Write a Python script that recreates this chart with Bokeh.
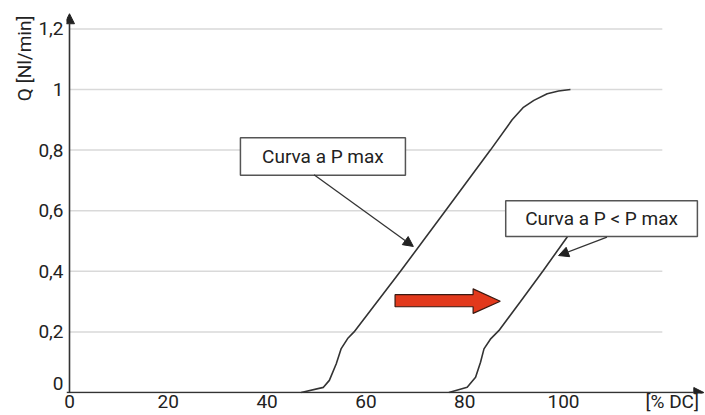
import math
from bokeh.plotting import figure
from bokeh.models import Range1d, FixedTicker, Arrow, NormalHead, Title
from bokeh.core.properties import value
from bokeh.embed import file_html
from bokeh.resources import INLINE

# ---- data ----
x_ticks = [0, 20, 40, 60, 80, 100]
x_tick_labels = ["0", "20", "40", "60", "80", "100"]
y_ticks = [0, 0.2, 0.4, 0.6, 0.8, 1.0, 1.2]
y_tick_labels = ["0", "0,2", "0,4", "0,6", "0,8", "1", "1,2"]
grid_levels = [0.2, 0.4, 0.6, 0.8, 1.0, 1.2]

curve_pmax_x = [46.9, 51.4, 52.6, 54.0, 55.0, 56.3, 57.6, 67.0, 76.1, 85.2, 89.6, 91.8, 94.0, 96.7, 99.0, 101.4]
curve_pmax_y = [0.0, 0.017, 0.04, 0.095, 0.145, 0.178, 0.2, 0.4, 0.6, 0.8, 0.9, 0.94, 0.964, 0.986, 0.995, 1.0]

curve_plow_x = [76.8, 80.5, 82.2, 83.2, 83.9, 85.3, 86.9, 91.3, 95.8, 100.6, 105.5]
curve_plow_y = [0.0, 0.017, 0.05, 0.10, 0.144, 0.178, 0.204, 0.30, 0.40, 0.51, 0.62]

label_pmax = "Curva a P max"
label_plow = "Curva a P < P max"
x_title = "[% DC]"
y_title = "Q [Nl/min]"

FONT = "Roboto"
TXT = "#222222"
X_TITLE_POS = 122.0
ZERO_LABEL_LIFT = 0.03   # the "0" on the y axis sits a little above the baseline

p = figure(width=705, height=415, output_backend="svg", toolbar_location=None,
           x_range=Range1d(-0.607, 128.74), y_range=Range1d(-0.0033, 1.2607),
           min_border_left=66, min_border_right=0, min_border_top=10, min_border_bottom=22)
p.outline_line_color = None
p.grid.visible = False
p.background_fill_color = "white"
p.border_fill_color = "white"

for ax in (p.xaxis[0], p.yaxis[0]):
    ax.axis_line_color = None
    ax.major_tick_line_color = None
    ax.minor_tick_line_color = None
    ax.major_tick_out = 0
    ax.major_tick_in = 0
    ax.minor_tick_out = 0
    ax.minor_tick_in = 0
    ax.major_label_text_font = FONT
    ax.major_label_text_font_size = "19px"
    ax.major_label_text_color = TXT
    ax.major_label_text_line_height = 1.0
p.xaxis.ticker = FixedTicker(ticks=x_ticks + [X_TITLE_POS])
overrides = {t: s for t, s in zip(x_ticks, x_tick_labels)}
overrides[X_TITLE_POS] = x_title
p.xaxis.major_label_overrides = overrides

y_label_pos = [t if t != 0 else ZERO_LABEL_LIFT for t in y_ticks]
p.yaxis.ticker = FixedTicker(ticks=y_label_pos)
p.yaxis.major_label_overrides = {t: s for t, s in zip(y_label_pos, y_tick_labels)}
p.xaxis.major_label_standoff = -4
p.yaxis.major_label_standoff = 3

# y axis title at the top-left
p.add_layout(Title(text=y_title, align="right", text_font=FONT, text_font_size="19px",
                   text_font_style="normal", text_color=TXT, offset=5, standoff=0), "left")

# grid lines from 0 to 120
p.multi_line(xs=[[0, 120] for _ in grid_levels], ys=[[g, g] for g in grid_levels],
             line_color="#d9d9d9", line_width=1.5)

# curves
p.line(curve_pmax_x, curve_pmax_y, line_color="#333333", line_width=1.6)
p.line(curve_plow_x, curve_plow_y, line_color="#333333", line_width=1.6)

# axis lines with arrow heads
p.add_layout(Arrow(end=NormalHead(size=10, fill_color="#222222", line_color="#222222"),
                   x_start=-0.6, y_start=0, x_end=128.4, y_end=0,
                   line_color="#333333", line_width=1.6))
p.add_layout(Arrow(end=NormalHead(size=10, fill_color="#222222", line_color="#222222"),
                   x_start=0, y_start=0, x_end=0, y_end=1.25,
                   line_color="#333333", line_width=1.6))

# red shift arrow
p.patch([65.9, 81.7, 81.7, 87.2, 81.7, 81.7, 65.9],
        [0.283, 0.283, 0.261, 0.301, 0.342, 0.323, 0.323],
        fill_color="#e2391c", line_color="#3a1a12", line_width=1.2)

# leader arrows
p.add_layout(Arrow(end=NormalHead(size=10, fill_color="#222222", line_color="#222222"),
                   x_start=49.5, y_start=0.7185, x_end=69.6, y_end=0.482,
                   line_color="#333333", line_width=1.3))
p.add_layout(Arrow(end=NormalHead(size=10, fill_color="#222222", line_color="#222222"),
                   x_start=108.8, y_start=0.5125, x_end=99.0, y_end=0.452,
                   line_color="#333333", line_width=1.3))

# label boxes
p.quad(left=[34.6, 88.3], right=[68.0, 127.1], bottom=[0.717, 0.515], top=[0.841, 0.633],
       fill_color="white", line_color="#555555", line_width=1.5)
p.text(x=[51.3, 107.7], y=[0.779, 0.574], text=[label_pmax, label_plow],
       text_font=value(FONT), text_font_size="19px", text_color=TXT,
       text_align="center", text_baseline="middle")

open("out.html", "w").write(file_html(p, INLINE))
